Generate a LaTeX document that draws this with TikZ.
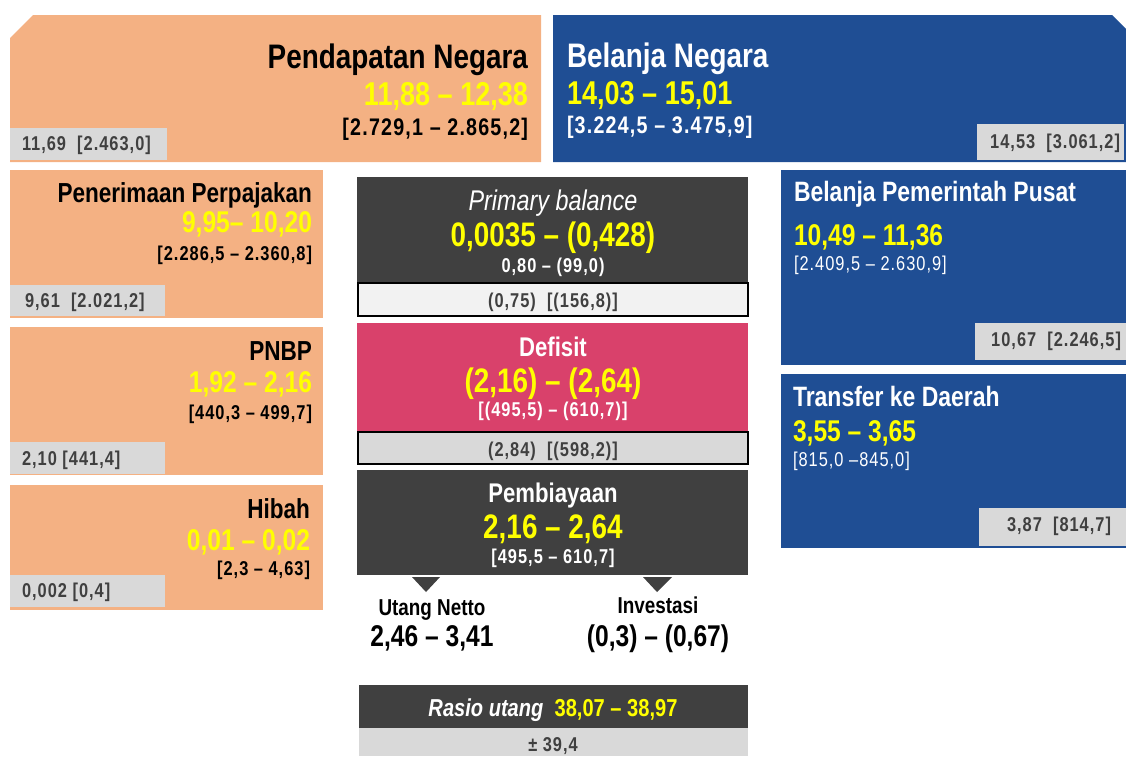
\documentclass[tikz,border=0pt]{standalone}
\usepackage{fontspec}
\setmainfont{Liberation Sans}[FakeStretch=0.82]
\newfontfamily\spasi{Liberation Sans}[FakeStretch=0.82,LetterSpace=5]
\usepackage{xcolor}
\usetikzlibrary{positioning}
\definecolor{pendapatan}{RGB}{244,177,131}
\definecolor{belanja}{RGB}{31,78,148}
\definecolor{defisit}{RGB}{217,65,107}
\definecolor{gelap}{RGB}{64,64,64}
\definecolor{abu}{RGB}{217,217,217}
\definecolor{abumuda}{RGB}{242,242,242}
\definecolor{kuning}{RGB}{255,255,0}

\begin{document}
\begin{tikzpicture}[x=1pt,y=-1pt,
  every node/.style={inner sep=0pt,outer sep=0pt},
  judulA/.style={font=\bfseries\fontsize{34}{40}\selectfont},
  judulB/.style={font=\bfseries\fontsize{27.5}{32}\selectfont},
  judulC/.style={font=\bfseries\fontsize{28}{32}\selectfont,text=white},
  angkaA/.style={font=\bfseries\fontsize{33}{38}\selectfont,text=kuning},
  angkaB/.style={font=\bfseries\fontsize{30}{34}\selectfont,text=kuning},
  angkaC/.style={font=\bfseries\fontsize{34}{38}\selectfont,text=kuning},
  kurungA/.style={font=\spasi\bfseries\fontsize{24}{28}\selectfont},
  kurungB/.style={font=\spasi\bfseries\fontsize{20}{24}\selectfont},
  kurungC/.style={font=\spasi\fontsize{20}{24}\selectfont,text=white},
  realisasi/.style={font=\spasi\bfseries\fontsize{20}{24}\selectfont,text=gelap},
  kotak/.style={draw=black,line width=1.2pt}]
\useasboundingbox (0,0) rectangle (1126,756);
% pendapatan dan belanja negara
\fill[pendapatan] (10,38) -- (33,15) -- (541,15) -- (541,162) -- (10,162) -- cycle;
\fill[abu] (10,128) rectangle (167,160);
\node[judulA,anchor=base east] (pnJudul) at (528,68) {Pendapatan Negara};
\node[angkaA,anchor=base east] (pnAngka) at (528,105) {11,88 – 12,38};
\node[kurungA,anchor=base east] (pnKurung) at (528,135) {[2.729,1 – 2.865,2]};
\node[realisasi,anchor=base west] (pnReal) at (22,150) {11,69\ \ [2.463,0]};
\fill[belanja] (553,15) -- (1112,15) -- (1126,29) -- (1126,162) -- (553,162) -- cycle;
\fill[abu] (977,124) rectangle (1124,160);
\node[judulA,anchor=base west,text=white] (bnJudul) at (567,67) {Belanja Negara};
\node[angkaA,anchor=base west] (bnAngka) at (567,104) {14,03 – 15,01};
\node[kurungA,anchor=base west,text=white] (bnKurung) at (567,133) {[3.224,5 – 3.475,9]};
\node[realisasi,anchor=base east] (bnReal) at (1120,148) {14,53\ \ [3.061,2]};
% rincian pendapatan
\fill[pendapatan] (10,170) rectangle (323,318);
\fill[abu] (10,285) rectangle (165,316);
\node[judulB,anchor=base east] (pajakJudul) at (312,202) {Penerimaan Perpajakan};
\node[angkaB,anchor=base east] (pajakAngka) at (312,232) {9,95– 10,20};
\node[kurungB,anchor=base east] (pajakKurung) at (312,260) {[2.286,5 – 2.360,8]};
\node[realisasi,anchor=base west] (pajakReal) at (25,307) {9,61\ \ [2.021,2]};
\fill[pendapatan] (10,327) rectangle (323,475);
\fill[abu] (10,442) rectangle (165,474);
\node[judulB,anchor=base east] (pnbpJudul) at (312,360) {PNBP};
\node[angkaB,anchor=base east] (pnbpAngka) at (312,392) {1,92 – 2,16};
\node[kurungB,anchor=base east] (pnbpKurung) at (312,419) {[440,3 – 499,7]};
\node[realisasi,anchor=base west] (pnbpReal) at (22,465) {2,10 [441,4]};
\fill[pendapatan] (10,485) rectangle (323,610);
\fill[abu] (10,575) rectangle (165,607);
\node[judulB,anchor=base east] (hibahJudul) at (310,518) {Hibah};
\node[angkaB,anchor=base east] (hibahAngka) at (310,550) {0,01 – 0,02};
\node[kurungB,anchor=base east] (hibahKurung) at (310,575) {[2,3 – 4,63]};
\node[realisasi,anchor=base west] (hibahReal) at (22,597) {0,002 [0,4]};
% keseimbangan, defisit, pembiayaan
\fill[gelap] (357,177) rectangle (748,283);
\draw[kotak,fill=abumuda] (358,283) rectangle (748,316);
\node[font=\itshape\fontsize{28.5}{32}\selectfont,text=white,anchor=base] (pbJudul) at (553,210) {Primary balance};
\node[angkaC,anchor=base] (pbAngka) at (553,246) {0,0035 – (0,428)};
\node[kurungB,text=white,anchor=base] (pbKurung) at (553,272) {0,80 – (99,0)};
\node[realisasi,anchor=base] (pbReal) at (553,307) {(0,75)\ \ [(156,8)]};
\fill[defisit] (357,323) rectangle (748,432);
\draw[kotak,fill=abu] (358,432) rectangle (748,464);
\node[judulB,font=\bfseries\fontsize{27}{32}\selectfont,text=white,anchor=base] (dfJudul) at (553,356) {Defisit};
\node[angkaC,anchor=base] (dfAngka) at (553,392) {(2,16) – (2,64)};
\node[kurungB,text=white,anchor=base] (dfKurung) at (553,416) {[(495,5) – (610,7)]};
\node[realisasi,anchor=base] (dfReal) at (553,456) {(2,84)\ \ [(598,2)]};
\fill[gelap] (357,470) rectangle (748,575);
\node[judulB,font=\bfseries\fontsize{27}{32}\selectfont,text=white,anchor=base] (biayaJudul) at (553,502) {Pembiayaan};
\node[angkaC,anchor=base] (biayaAngka) at (553,538) {2,16 – 2,64};
\node[kurungB,text=white,anchor=base] (biayaKurung) at (553,563) {[495,5 – 610,7]};
\fill[gelap] (412,577) -- (440,577) -- (426,592) -- cycle;
\fill[gelap] (643,577) -- (672,577) -- (657,592) -- cycle;
\node[font=\bfseries\fontsize{23}{28}\selectfont,anchor=base] (utangJudul) at (432,615) {Utang Netto};
\node[font=\bfseries\fontsize{30}{34}\selectfont,anchor=base] (utangAngka) at (432,646) {2,46 – 3,41};
\node[font=\bfseries\fontsize{23}{28}\selectfont,anchor=base] (invJudul) at (658,613) {Investasi};
\node[font=\bfseries\fontsize{30}{34}\selectfont,anchor=base] (invAngka) at (658,646) {(0,3) – (0,67)};
\fill[gelap] (359,685) rectangle (748,728);
\fill[abu] (359,728) rectangle (748,756);
\node[font=\bfseries\fontsize{24.5}{28}\selectfont,anchor=base,text=white] (rasio) at (553,716) {\textit{Rasio utang}\ \ \textcolor{kuning}{38,07 – 38,97}};
\node[realisasi,anchor=base] (rasioReal) at (553,751) {± 39,4};
% rincian belanja
\fill[belanja] (781,170) rectangle (1126,365);
\fill[abu] (975,323) rectangle (1126,360);
\node[judulC,anchor=base west] (bppJudul) at (794,201) {Belanja Pemerintah Pusat};
\node[angkaB,anchor=base west] (bppAngka) at (794,245) {10,49 – 11,36};
\node[kurungC,anchor=base west] (bppKurung) at (794,270) {[2.409,5 – 2.630,9]};
\node[realisasi,anchor=base east] (bppReal) at (1121,346) {10,67\ \ [2.246,5]};
\fill[belanja] (781,374) rectangle (1126,548);
\fill[abu] (979,508) rectangle (1126,546);
\node[judulC,anchor=base west] (tkdJudul) at (793,406) {Transfer ke Daerah};
\node[angkaB,anchor=base west] (tkdAngka) at (793,441) {3,55 – 3,65};
\node[kurungC,anchor=base west] (tkdKurung) at (793,466) {[815,0 –845,0]};
\node[realisasi,anchor=base east] (tkdReal) at (1111,531) {3,87\ \ [814,7]};
\end{tikzpicture}
\end{document}
